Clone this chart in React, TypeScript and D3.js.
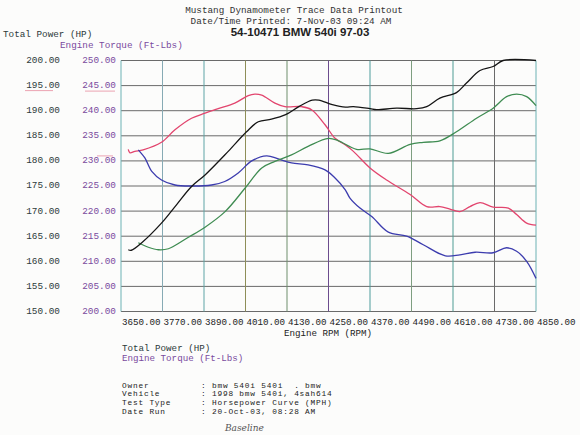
import React from 'react';
import * as d3 from 'd3';

// Engine RPM ticks and axis labels
const rpmTicks = [3650, 3770, 3890, 4010, 4130, 4250, 4370, 4490, 4610, 4730, 4850];
const powerTicks = [150, 155, 160, 165, 170, 175, 180, 185, 190, 195, 200];
const torqueTicks = [200, 205, 210, 215, 220, 225, 230, 235, 240, 245, 250];

// run 1 - power (black) and torque (red)
const run1PowerRpm = [3671, 3680, 3710, 3767, 3811, 3854, 3893, 3960, 4013, 4047, 4085, 4126, 4164, 4203, 4222, 4261, 4299, 4322, 4370, 4389, 4447, 4505, 4534, 4572, 4620, 4649, 4688, 4726, 4755, 4850];
const run1Power = [162.3, 162.2, 163.7, 167.6, 171.3, 174.9, 177.2, 181.9, 185.8, 187.8, 188.3, 189.2, 190.8, 192.1, 192.1, 191.2, 190.7, 190.8, 190.4, 190.2, 190.5, 190.4, 190.8, 192.5, 193.6, 195.5, 198.0, 198.8, 200, 200];
const run1TorqueRpm = [3671, 3676, 3690, 3714, 3767, 3806, 3854, 3893, 3931, 3979, 4018, 4037, 4057, 4095, 4124, 4172, 4201, 4240, 4269, 4298, 4322, 4370, 4418, 4486, 4534, 4572, 4601, 4630, 4659, 4688, 4726, 4770, 4794, 4823, 4850];
const run1Torque = [232.3, 231.6, 231.9, 232.2, 233.7, 236.2, 238.5, 239.5, 240.4, 241.5, 243.0, 243.3, 243.1, 241.5, 240.8, 240.8, 240.2, 237.2, 234.5, 233.2, 231.9, 228.6, 226.2, 223.3, 220.9, 220.9, 220.4, 219.9, 220.9, 221.7, 220.8, 220.6, 219.3, 217.6, 217.2];

// run 2 - power (green) and torque (blue)
const run2PowerRpm = [3700, 3729, 3758, 3787, 3845, 3893, 3951, 4009, 4057, 4095, 4143, 4191, 4250, 4279, 4331, 4370, 4423, 4486, 4524, 4572, 4620, 4678, 4726, 4765, 4794, 4823, 4850];
const run2Power = [163.7, 162.8, 162.3, 162.5, 164.8, 166.8, 169.9, 174.6, 178.6, 179.9, 181.2, 182.9, 184.5, 184.0, 182.3, 182.4, 181.5, 183.3, 183.7, 184.0, 185.8, 188.5, 190.5, 192.8, 193.3, 192.8, 191.0];
const run2TorqueRpm = [3700, 3705, 3719, 3739, 3767, 3806, 3854, 3912, 3950, 3989, 4028, 4071, 4105, 4143, 4191, 4240, 4269, 4298, 4312, 4341, 4375, 4423, 4476, 4524, 4588, 4630, 4674, 4726, 4765, 4794, 4823, 4850];
const run2Torque = [232.2, 231.8, 230.6, 227.9, 226.2, 225.2, 225.0, 225.2, 225.9, 227.6, 230.0, 231.0, 230.4, 229.6, 229.2, 228.2, 226.6, 224.3, 222.6, 220.6, 218.9, 215.8, 215.0, 213.3, 211.1, 211.3, 211.8, 211.7, 212.7, 212.0, 210.0, 206.6];

const infoLabels = ['Owner', 'Vehicle', 'Test Type', 'Date Run'];
const infoValues = ['bmw 540i 540i  . bmw', '1998 bmw 540i, 4sah614', 'Horsepower Curve (MPH)', '20-Oct-03, 08:28 AM'];

// scanned printout: vertical grid lines come out in slightly different inks
const vLineColors = ['#6cb2b4', '#86aab4', '#5ea4a6', '#8e8e58', '#6f8f6c', '#6c4c8e', '#4e9c9c', '#7e9e80', '#4e9c94', '#6a6a6a', '#6cb2b4'];

const MONO = "'Liberation Mono', 'DejaVu Sans Mono', monospace";
const DARK = '#2c3a3a';
const PURPLE = '#7a4a9e';

const W = 580;
const H = 435;
const left = 121;
const right = 536;
const top = 60.5;
const bottom = 311.5;

const App: React.FC = () => {
    const x = d3.scaleLinear().domain([3650, 4850]).range([left, right]);
    const yPower = d3.scaleLinear().domain([150, 200]).range([bottom, top]);
    const yTorque = d3.scaleLinear().domain([200, 250]).range([bottom, top]);

    const makePath = (rpm: number[], vals: number[], y: d3.ScaleLinear<number, number>) => {
        const line = d3.line<number>()
            .x((_, i) => x(rpm[i]))
            .y(d => y(d))
            .curve(d3.curveCatmullRom.alpha(0.5));
        return line(vals) || '';
    };

    const curves = [
        { d: makePath(run1TorqueRpm, run1Torque, yTorque), color: '#e2456e' },
        { d: makePath(run2TorqueRpm, run2Torque, yTorque), color: '#3c3cae' },
        { d: makePath(run2PowerRpm, run2Power, yPower), color: '#3f8c52' },
        { d: makePath(run1PowerRpm, run1Power, yPower), color: '#151515' },
    ];

    return (
        <svg width={W} height={H} style={{ position: 'absolute', left: 0, top: 0, background: '#fcfcfb' }}>
            {/* header */}
            <g fontFamily={MONO} fontSize={9.3} fill="#333" textAnchor="middle">
                <text x={294} y={13}>Mustang Dynamometer Trace Data Printout</text>
                <text x={291} y={23.5}>Date/Time Printed: 7-Nov-03 09:24 AM</text>
            </g>
            <text x={300} y={36} textAnchor="middle" fontFamily="'Liberation Sans Narrow', 'Liberation Sans', sans-serif"
                fontWeight="bold" fontSize={11.5} fill="#222">54-10471 BMW 540i 97-03</text>

            <text x={3} y={37} fontFamily={MONO} fontSize={9.3} fill={DARK}>Total Power (HP)</text>
            <text x={60} y={48} fontFamily={MONO} fontSize={9.3} fill={PURPLE}>Engine Torque (Ft-Lbs)</text>

            {/* grid */}
            {powerTicks.map(t => (
                <line key={'h' + t} x1={left} x2={right} y1={yPower(t)} y2={yPower(t)} stroke="#6a6a6a" strokeWidth={1} />
            ))}
            {rpmTicks.map((t, i) => (
                <line key={'v' + t} x1={x(t)} x2={x(t)} y1={top} y2={bottom} stroke={vLineColors[i]} strokeWidth={1} />
            ))}

            {/* y labels */}
            <g fontFamily={MONO} fontSize={9.4} dominantBaseline="middle" textAnchor="end">
                {powerTicks.map(t => (
                    <text key={'p' + t} x={60} y={yPower(t)} fill={DARK}>{t.toFixed(2)}</text>
                ))}
                {torqueTicks.map(t => (
                    <text key={'t' + t} x={116} y={yTorque(t)} fill={PURPLE}>{t.toFixed(2)}</text>
                ))}
            </g>

            {/* pen marks on the printout */}
            <g stroke="#e0607a" strokeWidth={0.8} opacity={0.7}>
                <line x1={25} x2={53} y1={yPower(195) + 5} y2={yPower(195) + 5} />
                <line x1={85} x2={115} y1={yTorque(245) + 5.5} y2={yTorque(245) + 5.5} />
                <line x1={97} x2={113} y1={yTorque(230) - 5} y2={yTorque(230) - 5} />
            </g>

            {/* x labels */}
            <g fontFamily={MONO} fontSize={9.2} fill="#222">
                {rpmTicks.map(t => (
                    <text key={'x' + t} x={x(t) + 1} y={325}>{t.toFixed(2)}</text>
                ))}
            </g>
            <text x={328} y={336} textAnchor="middle" fontFamily={MONO} fontSize={9.2} fill="#222">Engine RPM (RPM)</text>

            {/* curves */}
            {curves.map((c, i) => (
                <path key={i} d={c.d} fill="none" stroke={c.color} strokeWidth={1.3} />
            ))}

            {/* footer */}
            <g fontFamily={MONO} fontSize={9.2}>
                <text x={122} y={351} fill={DARK}>Total Power (HP)</text>
                <text x={122} y={361} fill={PURPLE}>Engine Torque (Ft-Lbs)</text>
            </g>
            <g fontFamily={MONO} fontSize={7.8} letterSpacing={0.8} fill="#222">
                {infoLabels.map((l, i) => (
                    <g key={l}>
                        <text x={122} y={387.5 + i * 8.9}>{l}</text>
                        <text x={201} y={387.5 + i * 8.9} xmlSpace="preserve" style={{ whiteSpace: 'pre' }}>{': ' + infoValues[i]}</text>
                    </g>
                ))}
            </g>
            <text x={225} y={431} fontFamily="'DejaVu Serif', serif" fontStyle="italic" fontSize={9} fill="#555">Baseline</text>
        </svg>
    );
};

export default App;
